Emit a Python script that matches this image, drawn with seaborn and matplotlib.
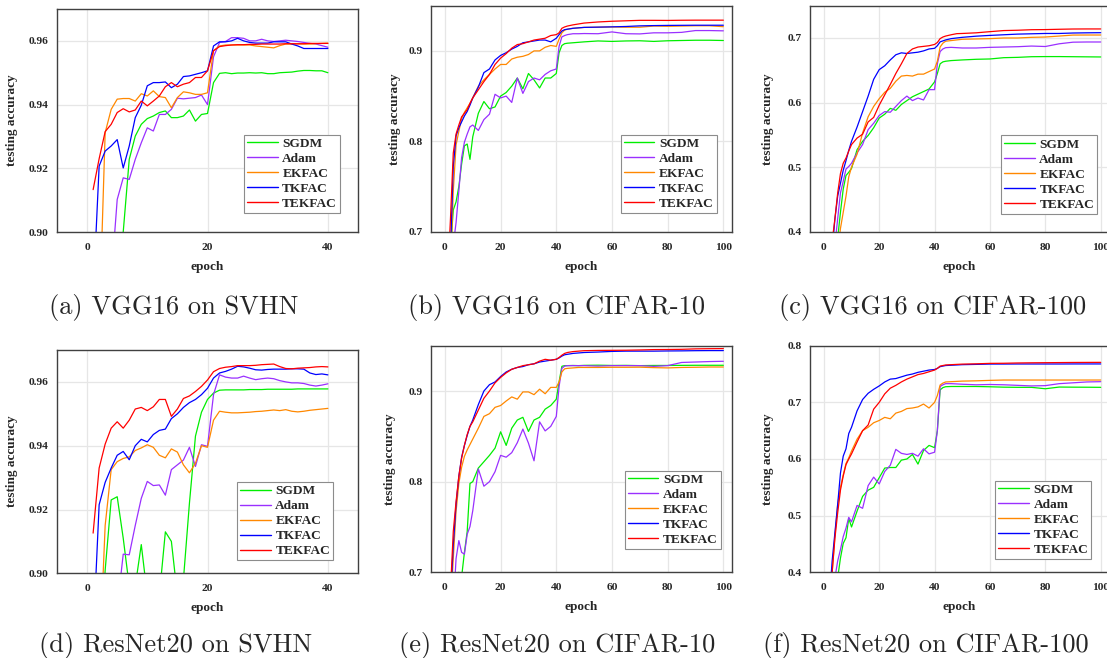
import numpy as np
import pandas as pd
import matplotlib
matplotlib.use("Agg")
import matplotlib.pyplot as plt
from matplotlib.ticker import FormatStrFormatter
import seaborn as sns

methods = ["SGDM", "Adam", "EKFAC", "TKFAC", "TEKFAC"]
colors = ["#00ee00", "#9a30ff", "#ff8800", "#0000ff", "#ff0000"]

# epochs
ep_svhn = list(range(1, 41))
ep_cifar = [1, 2, 3, 4, 5, 6, 7, 8, 9, 10, 12, 14, 16, 18, 20, 22, 24, 26, 28, 30,
            32, 34, 36, 38, 40, 41, 42, 43, 44, 46, 48, 50, 55, 60, 65, 70, 75, 80,
            85, 90, 95, 100]

# (a) VGG16 on SVHN
a_sgdm = [0.80, 0.83, 0.85, 0.87, 0.885, 0.900, 0.9228, 0.9301, 0.9338, 0.9356,
          0.9364, 0.9375, 0.9380, 0.9359, 0.9359, 0.9364, 0.9383, 0.9348, 0.9369, 0.9372,
          0.9469, 0.9498, 0.9500, 0.9497, 0.9499, 0.9499, 0.9500, 0.9499, 0.9500, 0.9497,
          0.9497, 0.9500, 0.9501, 0.9502, 0.9505, 0.9507, 0.9507, 0.9506, 0.9506, 0.9500]
a_adam = [0.80, 0.83, 0.86, 0.885, 0.9102, 0.9170, 0.9165, 0.9228, 0.9280, 0.9327,
          0.9317, 0.9369, 0.9369, 0.9385, 0.9420, 0.9418, 0.9420, 0.9422, 0.9430, 0.9400,
          0.9550, 0.9595, 0.9598, 0.9610, 0.9610, 0.9608, 0.9600, 0.9600, 0.9605, 0.9600,
          0.9598, 0.9600, 0.9602, 0.9600, 0.9598, 0.9595, 0.9592, 0.9590, 0.9585, 0.9580]
a_ekfac = [0.70, 0.87, 0.9312, 0.9385, 0.9417, 0.9419, 0.9419, 0.9411, 0.9434, 0.9427,
           0.9443, 0.9425, 0.9422, 0.9390, 0.9422, 0.9440, 0.9437, 0.9432, 0.9432, 0.9437,
           0.9569, 0.9584, 0.9587, 0.9587, 0.9587, 0.9587, 0.9587, 0.9584, 0.9582, 0.9580,
           0.9578, 0.9585, 0.9590, 0.9590, 0.9590, 0.9590, 0.9590, 0.9591, 0.9592, 0.9593]
a_tkfac = [0.88, 0.9207, 0.9254, 0.9270, 0.9290, 0.9201, 0.9270, 0.9359, 0.9398, 0.9459,
           0.9469, 0.9469, 0.9471, 0.9453, 0.9464, 0.9488, 0.9490, 0.9495, 0.9500, 0.9506,
           0.9584, 0.9597, 0.9597, 0.9600, 0.9608, 0.9600, 0.9595, 0.9593, 0.9593, 0.9593,
           0.9597, 0.9597, 0.9597, 0.9590, 0.9584, 0.9576, 0.9576, 0.9576, 0.9576, 0.9576]
a_tekfac = [0.9133, 0.9230, 0.9315, 0.9338, 0.9375, 0.9387, 0.9377, 0.9383, 0.9411, 0.9396,
            0.9411, 0.9427, 0.9456, 0.9469, 0.9456, 0.9464, 0.9469, 0.9485, 0.9485, 0.9506,
            0.9569, 0.9582, 0.9585, 0.9587, 0.9588, 0.9588, 0.9589, 0.9589, 0.9590, 0.9590,
            0.9590, 0.9590, 0.9591, 0.9591, 0.9591, 0.9591, 0.9592, 0.9592, 0.9592, 0.9592]

# (b) VGG16 on CIFAR-10
b_sgdm = [0.60, 0.68, 0.724, 0.733, 0.750, 0.775, 0.795, 0.797, 0.780, 0.805,
          0.831, 0.844, 0.836, 0.838, 0.850, 0.854, 0.861, 0.870, 0.858, 0.875,
          0.868, 0.859, 0.870, 0.870, 0.875, 0.898, 0.906, 0.908, 0.9085, 0.909,
          0.9095, 0.910, 0.911, 0.9105, 0.911, 0.9112, 0.9105, 0.9112, 0.9115, 0.9118,
          0.9118, 0.9115]
b_adam = [0.60, 0.65, 0.685, 0.710, 0.745, 0.782, 0.799, 0.808, 0.816, 0.818,
          0.812, 0.824, 0.830, 0.852, 0.848, 0.850, 0.843, 0.870, 0.853, 0.866,
          0.870, 0.868, 0.874, 0.878, 0.880, 0.905, 0.9155, 0.917, 0.918, 0.919,
          0.919, 0.9192, 0.919, 0.921, 0.919, 0.9188, 0.920, 0.920, 0.9205, 0.9225,
          0.9225, 0.9222]
b_ekfac = [0.60, 0.66, 0.745, 0.796, 0.811, 0.825, 0.832, 0.837, 0.842, 0.848,
           0.861, 0.868, 0.874, 0.880, 0.885, 0.885, 0.891, 0.893, 0.894, 0.896,
           0.900, 0.900, 0.904, 0.906, 0.905, 0.913, 0.920, 0.923, 0.924, 0.925,
           0.9255, 0.926, 0.9262, 0.9265, 0.9262, 0.9262, 0.9275, 0.9272, 0.9275, 0.9278,
           0.9278, 0.9268]
b_tkfac = [0.62, 0.68, 0.772, 0.806, 0.815, 0.8215, 0.828, 0.833, 0.840, 0.848,
           0.860, 0.876, 0.880, 0.890, 0.895, 0.898, 0.902, 0.905, 0.909, 0.910,
           0.911, 0.912, 0.912, 0.910, 0.914, 0.918, 0.922, 0.9235, 0.924, 0.925,
           0.9255, 0.926, 0.9263, 0.9266, 0.927, 0.9277, 0.928, 0.9282, 0.9283, 0.9284,
           0.9284, 0.9284]
b_tekfac = [0.65, 0.715, 0.787, 0.808, 0.818, 0.827, 0.831, 0.835, 0.842, 0.848,
            0.857, 0.866, 0.874, 0.885, 0.892, 0.897, 0.903, 0.907, 0.908, 0.910,
            0.912, 0.913, 0.914, 0.917, 0.918, 0.920, 0.925, 0.9265, 0.9275, 0.9288,
            0.9298, 0.9308, 0.932, 0.9328, 0.9333, 0.9338, 0.9338, 0.9337, 0.9339, 0.934,
            0.934, 0.934]

# (c) VGG16 on CIFAR-100
c_sgdm = [0.26, 0.29, 0.32, 0.35, 0.39, 0.43, 0.466, 0.487, 0.492, 0.498,
          0.527, 0.540, 0.549, 0.561, 0.576, 0.582, 0.591, 0.588, 0.597, 0.603,
          0.609, 0.613, 0.617, 0.621, 0.632, 0.645, 0.660, 0.663, 0.664, 0.665,
          0.6655, 0.666, 0.667, 0.6675, 0.6695, 0.670, 0.671, 0.6712, 0.6712, 0.671,
          0.6708, 0.6706]
c_adam = [0.28, 0.31, 0.34, 0.38, 0.42, 0.46, 0.478, 0.497, 0.501, 0.506,
          0.522, 0.535, 0.558, 0.568, 0.580, 0.586, 0.585, 0.594, 0.603, 0.610,
          0.603, 0.607, 0.604, 0.620, 0.620, 0.660, 0.679, 0.683, 0.685, 0.6855,
          0.685, 0.6845, 0.6845, 0.6855, 0.686, 0.6865, 0.6875, 0.6868, 0.691, 0.6935,
          0.6938, 0.6938]
c_ekfac = [0.25, 0.28, 0.31, 0.34, 0.37, 0.405, 0.430, 0.455, 0.485, 0.500,
           0.520, 0.553, 0.578, 0.594, 0.606, 0.616, 0.622, 0.633, 0.641, 0.642,
           0.641, 0.644, 0.644, 0.648, 0.652, 0.664, 0.686, 0.692, 0.695, 0.696,
           0.697, 0.698, 0.6985, 0.699, 0.700, 0.700, 0.701, 0.7015, 0.703, 0.7045,
           0.7046, 0.7046]
c_tkfac = [0.30, 0.34, 0.37, 0.42, 0.455, 0.475, 0.495, 0.510, 0.526, 0.540,
           0.562, 0.586, 0.610, 0.636, 0.651, 0.657, 0.666, 0.674, 0.677, 0.676,
           0.677, 0.678, 0.680, 0.683, 0.684, 0.688, 0.694, 0.6955, 0.697, 0.699,
           0.700, 0.701, 0.7028, 0.704, 0.705, 0.706, 0.7065, 0.707, 0.707, 0.7077,
           0.708, 0.7082]
c_tekfac = [0.30, 0.34, 0.385, 0.42, 0.460, 0.490, 0.506, 0.514, 0.525, 0.535,
            0.545, 0.551, 0.570, 0.577, 0.596, 0.612, 0.628, 0.645, 0.660, 0.676,
            0.683, 0.686, 0.687, 0.688, 0.690, 0.693, 0.699, 0.7015, 0.703, 0.705,
            0.7067, 0.707, 0.708, 0.7098, 0.7115, 0.712, 0.7128, 0.713, 0.7135, 0.7139,
            0.714, 0.714]

# (d) ResNet20 on SVHN
d_sgdm = [0.85, 0.87, 0.901, 0.923, 0.924, 0.911, 0.896, 0.896, 0.909, 0.893,
          0.885, 0.893, 0.913, 0.910, 0.893, 0.898, 0.922, 0.943, 0.9505, 0.9545,
          0.9565, 0.9574, 0.9575, 0.9575, 0.9575, 0.9575, 0.9576, 0.9576, 0.9576, 0.9577,
          0.9577, 0.9577, 0.9577, 0.9577, 0.9578, 0.9578, 0.9578, 0.9578, 0.9578, 0.9578]
d_adam = [0.80, 0.82, 0.85, 0.87, 0.889, 0.906, 0.9058, 0.915, 0.9235, 0.9288,
          0.9275, 0.9277, 0.9245, 0.9325, 0.934, 0.9355, 0.9395, 0.9335, 0.9403, 0.9398,
          0.956, 0.9622, 0.9615, 0.9612, 0.9612, 0.9618, 0.9612, 0.9607, 0.961, 0.9612,
          0.961, 0.9604, 0.960, 0.9597, 0.9597, 0.9595, 0.959, 0.9587, 0.959, 0.9594]
d_ekfac = [0.80, 0.87, 0.915, 0.9325, 0.935, 0.936, 0.9365, 0.9385, 0.9393, 0.9403,
           0.9395, 0.937, 0.9362, 0.939, 0.938, 0.934, 0.9315, 0.9345, 0.940, 0.9395,
           0.948, 0.9508, 0.9505, 0.9503, 0.9503, 0.9504, 0.9505, 0.9507, 0.9508, 0.951,
           0.9512, 0.951, 0.9513, 0.9508, 0.9506, 0.9508, 0.9511, 0.9513, 0.9515, 0.9517]
d_tkfac = [0.88, 0.9215, 0.9285, 0.933, 0.937, 0.9382, 0.9356, 0.940, 0.942, 0.9412,
           0.9435, 0.9448, 0.9452, 0.9485, 0.950, 0.952, 0.9535, 0.9545, 0.956, 0.958,
           0.9612, 0.9628, 0.9633, 0.964, 0.9649, 0.9647, 0.9643, 0.9638, 0.9637, 0.9639,
           0.964, 0.964, 0.964, 0.9641, 0.9641, 0.964, 0.9628, 0.9623, 0.9625, 0.9622]
d_tekfac = [0.9126, 0.933, 0.9405, 0.9455, 0.9475, 0.9455, 0.948, 0.9515, 0.952, 0.951,
            0.9522, 0.9545, 0.9545, 0.9492, 0.9515, 0.9548, 0.9556, 0.957, 0.9586, 0.9606,
            0.9632, 0.9642, 0.9646, 0.9648, 0.9651, 0.9651, 0.9651, 0.9652, 0.9654, 0.9655,
            0.9656, 0.9648, 0.9642, 0.9641, 0.9643, 0.9644, 0.9645, 0.9647, 0.9648, 0.9647]

# (e) ResNet20 on CIFAR-10
e_sgdm = [0.55, 0.60, 0.64, 0.68, 0.70, 0.695, 0.722, 0.745, 0.798, 0.800,
          0.815, 0.822, 0.829, 0.837, 0.855, 0.840, 0.859, 0.868, 0.871, 0.8554,
          0.868, 0.871, 0.880, 0.884, 0.891, 0.910, 0.9273, 0.928, 0.928, 0.9282,
          0.928, 0.9283, 0.9285, 0.9282, 0.9283, 0.928, 0.9282, 0.9282, 0.9283, 0.9284,
          0.9284, 0.9284]
e_adam = [0.58, 0.62, 0.66, 0.715, 0.735, 0.722, 0.720, 0.742, 0.7505, 0.768,
          0.814, 0.795, 0.800, 0.811, 0.829, 0.827, 0.832, 0.843, 0.858, 0.8425,
          0.823, 0.866, 0.856, 0.861, 0.872, 0.905, 0.925, 0.9275, 0.928, 0.928,
          0.928, 0.928, 0.9275, 0.928, 0.928, 0.928, 0.9272, 0.928, 0.9315, 0.932,
          0.9325, 0.9328]
e_ekfac = [0.61, 0.66, 0.715, 0.767, 0.798, 0.816, 0.828, 0.835, 0.841, 0.847,
           0.859, 0.872, 0.875, 0.882, 0.884, 0.889, 0.8935, 0.891, 0.899, 0.899,
           0.896, 0.902, 0.897, 0.904, 0.904, 0.910, 0.921, 0.9245, 0.925, 0.9255,
           0.926, 0.926, 0.926, 0.9262, 0.9262, 0.9263, 0.9258, 0.9255, 0.926, 0.9262,
           0.9265, 0.9265]
e_tkfac = [0.62, 0.67, 0.73, 0.775, 0.806, 0.827, 0.840, 0.851, 0.861, 0.868,
           0.885, 0.900, 0.907, 0.910, 0.916, 0.921, 0.924, 0.926, 0.927, 0.929,
           0.930, 0.932, 0.933, 0.934, 0.935, 0.9365, 0.9385, 0.940, 0.9405, 0.9415,
           0.942, 0.9425, 0.943, 0.9437, 0.944, 0.944, 0.944, 0.9442, 0.9443, 0.9445,
           0.9446, 0.9446]
e_tekfac = [0.62, 0.68, 0.745, 0.778, 0.806, 0.826, 0.840, 0.852, 0.861, 0.866,
            0.879, 0.892, 0.900, 0.909, 0.915, 0.920, 0.924, 0.926, 0.928, 0.929,
            0.930, 0.933, 0.935, 0.934, 0.935, 0.937, 0.9395, 0.9415, 0.9425, 0.9435,
            0.944, 0.9445, 0.9448, 0.9449, 0.945, 0.9453, 0.9457, 0.9458, 0.946, 0.9465,
            0.9467, 0.9468]

# (f) ResNet20 on CIFAR-100
f_sgdm = [0.25, 0.28, 0.31, 0.35, 0.39, 0.425, 0.451, 0.461, 0.495, 0.480,
          0.508, 0.534, 0.545, 0.550, 0.567, 0.584, 0.585, 0.585, 0.598, 0.600,
          0.608, 0.591, 0.615, 0.624, 0.620, 0.650, 0.722, 0.726, 0.7276, 0.728,
          0.728, 0.728, 0.728, 0.7275, 0.7268, 0.7265, 0.7265, 0.724, 0.727, 0.7268,
          0.7267, 0.7265]
f_adam = [0.25, 0.29, 0.33, 0.39, 0.42, 0.44, 0.463, 0.478, 0.497, 0.489,
          0.518, 0.513, 0.553, 0.568, 0.556, 0.578, 0.589, 0.617, 0.610, 0.608,
          0.610, 0.605, 0.618, 0.609, 0.612, 0.650, 0.728, 0.731, 0.733, 0.733,
          0.7325, 0.732, 0.731, 0.7315, 0.731, 0.730, 0.729, 0.7295, 0.733, 0.7345,
          0.736, 0.7365]
f_ekfac = [0.30, 0.35, 0.40, 0.465, 0.520, 0.550, 0.572, 0.592, 0.602, 0.614,
           0.635, 0.650, 0.656, 0.664, 0.668, 0.6735, 0.671, 0.681, 0.684, 0.689,
           0.690, 0.692, 0.697, 0.690, 0.700, 0.712, 0.7306, 0.734, 0.736, 0.7365,
           0.737, 0.7375, 0.738, 0.7388, 0.7394, 0.7394, 0.7394, 0.7394, 0.7394, 0.7394,
           0.7394, 0.7394]
f_tkfac = [0.30, 0.35, 0.42, 0.470, 0.520, 0.575, 0.605, 0.618, 0.645, 0.656,
           0.685, 0.705, 0.716, 0.723, 0.729, 0.736, 0.741, 0.742, 0.745, 0.748,
           0.750, 0.753, 0.755, 0.757, 0.758, 0.760, 0.763, 0.764, 0.765, 0.7655,
           0.766, 0.7665, 0.767, 0.7676, 0.7676, 0.7677, 0.7677, 0.7677, 0.7677, 0.7678,
           0.7678, 0.7678]
f_tekfac = [0.30, 0.35, 0.40, 0.46, 0.505, 0.545, 0.570, 0.590, 0.600, 0.609,
            0.630, 0.650, 0.660, 0.688, 0.700, 0.715, 0.725, 0.730, 0.736, 0.741,
            0.745, 0.749, 0.751, 0.754, 0.757, 0.760, 0.764, 0.765, 0.766, 0.7665,
            0.767, 0.7675, 0.768, 0.7688, 0.769, 0.7695, 0.7698, 0.770, 0.7702, 0.7704,
            0.7705, 0.7706]

captions = ["(a) VGG16 on SVHN", "(b) VGG16 on CIFAR-10", "(c) VGG16 on CIFAR-100",
            "(d) ResNet20 on SVHN", "(e) ResNet20 on CIFAR-10", "(f) ResNet20 on CIFAR-100"]

sns.set_style("whitegrid")
plt.rcParams['font.family'] = ['Liberation Serif', 'DejaVu Serif']
plt.rcParams['font.weight'] = 'bold'

W, H = 1107, 658
fig = plt.figure(figsize=(W / 100, H / 100), dpi=100)

def px_rect(l, t, r, b):
    return [l / W, 1 - b / H, (r - l) / W, (b - t) / H]

panels = [
    dict(rect=px_rect(57, 9, 358, 232), ep=ep_svhn,
         ys=[a_sgdm, a_adam, a_ekfac, a_tkfac, a_tekfac],
         ylim=(0.90, 0.97), yt=[0.90, 0.92, 0.94, 0.96], fmt='%.2f',
         xlim=(-5, 45), xt=[0, 20, 40], leg=(0.94, 0.085), ylx=-0.15,
         cpos=(173.5, 314)),
    dict(rect=px_rect(431, 5.7, 731.7, 231.7), ep=ep_cifar,
         ys=[b_sgdm, b_adam, b_ekfac, b_tkfac, b_tekfac],
         ylim=(0.70, 0.95), yt=[0.7, 0.8, 0.9], fmt='%.1f',
         xlim=(-5, 103), xt=[0, 20, 40, 60, 80, 100], leg=(0.95, 0.083), ylx=-0.12,
         cpos=(556.7, 314)),
    dict(rect=px_rect(810, 5.7, 1109, 231.7), ep=ep_cifar,
         ys=[c_sgdm, c_adam, c_ekfac, c_tkfac, c_tekfac],
         ylim=(0.40, 0.75), yt=[0.4, 0.5, 0.6, 0.7], fmt='%.1f',
         xlim=(-5, 103), xt=[0, 20, 40, 60, 80, 100], leg=(0.96, 0.08), ylx=-0.14,
         cpos=(932.5, 314)),
    dict(rect=px_rect(57, 350, 358, 573.3), ep=ep_svhn,
         ys=[d_sgdm, d_adam, d_ekfac, d_tkfac, d_tekfac],
         ylim=(0.90, 0.97), yt=[0.90, 0.92, 0.94, 0.96], fmt='%.2f',
         xlim=(-5, 45), xt=[0, 20, 40], leg=(0.917, 0.058), ylx=-0.15,
         cpos=(175.5, 652)),
    dict(rect=px_rect(431, 345.7, 731.7, 572.3), ep=ep_cifar,
         ys=[e_sgdm, e_adam, e_ekfac, e_tkfac, e_tekfac],
         ylim=(0.70, 0.95), yt=[0.7, 0.8, 0.9], fmt='%.1f',
         xlim=(-5, 103), xt=[0, 20, 40, 60, 80, 100], leg=(0.963, 0.103), ylx=-0.136,
         cpos=(556.7, 652)),
    dict(rect=px_rect(810, 345.7, 1109, 572.3), ep=ep_cifar,
         ys=[f_sgdm, f_adam, f_ekfac, f_tkfac, f_tekfac],
         ylim=(0.40, 0.80), yt=[0.4, 0.5, 0.6, 0.7, 0.8], fmt='%.1f',
         xlim=(-5, 103), xt=[0, 20, 40, 60, 80, 100], leg=(0.94, 0.059), ylx=-0.14,
         cpos=(925.5, 652)),
]

pal = dict(zip(methods, colors))

for p, cap in zip(panels, captions):
    ax = fig.add_axes(p['rect'])
    ep = p['ep']
    df = pd.DataFrame({
        'epoch': np.tile(ep, len(methods)),
        'acc': np.concatenate(p['ys']),
        'method': np.repeat(methods, len(ep)),
    })
    sns.lineplot(data=df, x='epoch', y='acc', hue='method', hue_order=methods,
                 palette=pal, estimator=None, lw=0.9, ax=ax)
    old = ax.get_legend()
    handles = old.legend_handles
    labels = [t.get_text() for t in old.texts]
    old.remove()
    leg = ax.legend(handles, labels, loc='lower right', bbox_to_anchor=p['leg'],
                    fontsize=9.6, frameon=True, fancybox=False, framealpha=1,
                    edgecolor='#8c8c8c', borderpad=0.22, labelspacing=0.2,
                    handlelength=2.3, handletextpad=0.35, borderaxespad=0)
    leg.get_frame().set_linewidth(0.8)
    for h in leg.get_lines():
        h.set_linewidth(1.0)

    ax.set_xlim(*p['xlim'])
    ax.set_ylim(*p['ylim'])
    ax.set_xticks(p['xt'])
    ax.set_yticks(p['yt'])
    ax.yaxis.set_major_formatter(FormatStrFormatter(p['fmt']))
    ax.tick_params(axis='both', length=0, labelsize=8.2)
    ax.tick_params(axis='x', pad=8)
    ax.tick_params(axis='y', pad=6)
    ax.grid(True, color='#e6e6e6', lw=0.9)
    for s in ax.spines.values():
        s.set_visible(True)
        s.set_color('#404040')
        s.set_linewidth(1.0)

    ax.set_xlabel('epoch', fontsize=9.5, fontweight='bold', va='center')
    ax.set_ylabel('testing accuracy', fontsize=9.5, fontweight='bold', va='center')
    ax.xaxis.set_label_coords(0.5, -0.155)
    ax.yaxis.set_label_coords(p['ylx'], 0.5)

    cx, cy = p['cpos']
    fig.text(cx / W, 1 - cy / H, cap, fontsize=19, family='cmr10',
             fontweight='normal', ha='center', va='baseline')

fig.savefig('out.png', dpi=100)
